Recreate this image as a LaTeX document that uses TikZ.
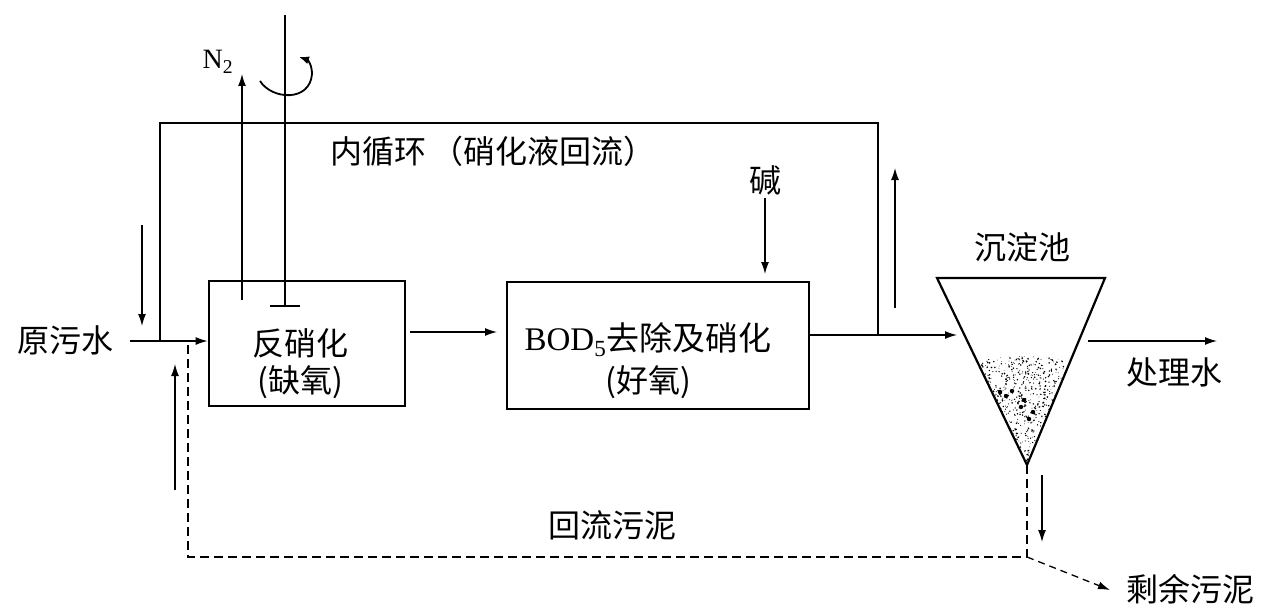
\documentclass[tikz,border=0pt]{standalone}
\usepackage{fontspec}
\setmainfont{Liberation Serif}
\newfontfamily\cjk{Noto Sans CJK SC}
\usetikzlibrary{arrows.meta}
\begin{document}
\begin{tikzpicture}[x=1pt,y=-1pt,line width=1.3pt,
  arr/.style={-{Latex[length=12pt,width=8pt]}},
  boxstyle/.style={draw,line width=2.8pt,inner sep=0pt},
  lbl/.style={font=\cjk\fontsize{32}{40}\selectfont,inner sep=0pt},
  latin/.style={font=\rmfamily\fontsize{33}{40}\selectfont,inner sep=0pt},
  sludge/.style={line width=2.6pt,dash pattern=on 9pt off 5pt},
  thindash/.style={line width=1.3pt,dash pattern=on 7pt off 5pt}]
\useasboundingbox (0,0) rectangle (1280,610);
\fill[white] (0,0) rectangle (1280,610);

% boxes
\node[boxstyle,minimum width=196pt,minimum height=125pt] (box1) at (307,343.5) {};
\node[boxstyle,minimum width=302pt,minimum height=127pt] (box2) at (658,345.5) {};
\node[lbl,align=center] (t1a) at (300,343) {反硝化};
\node[lbl,align=center] (t1b) at (300,382) {(缺氧)};
\node[latin,anchor=base west] (t2a) at (524,350) {BOD\textsubscript{5}{\cjk 去除及硝化}};
\node[lbl] (t2b) at (648,382) {(好氧)};

% labels
\node[lbl] (raw) at (65,340) {原污水};
\node[lbl] (loop) at (493,151) {内循环\hspace{5pt}（硝化液回流）};
\node[lbl] (alk) at (765,180) {碱};
\node[lbl] (settle) at (1022,247) {沉淀池};
\node[lbl] (treated) at (1174,372) {处理水};
\node[lbl] (ret) at (612,525) {回流污泥};
\node[lbl] (excess) at (1190,589) {剩余污泥};
\node[latin,font=\rmfamily\fontsize{28}{34}\selectfont] (n2) at (218,62) {N\textsubscript{2}};

% settling tank
\coordinate (cl) at (937,278);
\coordinate (cr) at (1105,278);
\coordinate (tip) at (1027,465);
\draw[line width=2.2pt,line join=miter] (cl) -- (cr) -- (tip) -- cycle;
\begin{scope}
  \clip (977,362) .. controls (1005,354) and (1045,354) .. (1070,362) -- (tip) -- cycle;
  \pgfmathsetseed{7}
  \foreach \i in {1,...,1000} {
    \pgfmathsetmacro\px{975+97*rnd}
    \pgfmathsetmacro\py{352+113*rnd}
    \pgfmathsetmacro\pr{0.35+0.6*rnd}
    \fill (\px,\py) circle (\pr);
  }
  \foreach \bx/\by in {1000/392,1006/396,1012/391,1024/400,1021/407,1033/412,1029/419} {
    \fill (\bx,\by) circle (2.2);
  }
\end{scope}

% main flow
\coordinate (inS) at (130,341);
\draw[arr] (inS) -- (inS -| box1.west);
\coordinate (b1o) at (410,332);
\coordinate (b2i) at (497,332);
\draw[arr] (b1o) -- (b2i);
\coordinate (j1) at (878,335);
\coordinate (cin) at (957,335);
\draw (j1 -| box2.east) -- (j1);
\draw[arr] (j1) -- (cin);
\coordinate (tout) at (1088,341);
\coordinate (tend) at (1217,341);
\draw[arr] (tout) -- (tend);

% internal recycle loop
\coordinate (lt1) at (878,123);
\coordinate (lt2) at (160,123);
\coordinate (lt3) at (160,341);
\draw (j1) -- (lt1) -- (lt2) -- (lt3);
\coordinate (da1) at (142,225);
\coordinate (da2) at (142,326);
\draw[arr] (da1) -- (da2);
\coordinate (ua1) at (895,308);
\coordinate (ua2) at (895,168);
\draw[arr] (ua1) -- (ua2);

% return sludge
\coordinate (rs1) at (188,345);
\coordinate (rs2) at (188,557);
\coordinate (rs3) at (1027,557);
\draw[sludge] (rs1) -- (rs2) -- (rs3) -- (tip);
\coordinate (ex) at (1110,590);
\draw[thindash,-{Latex[length=12pt,width=8pt]}] (rs3) -- (ex);
\coordinate (ra1) at (175,490);
\coordinate (ra2) at (175,364);
\draw[arr] (ra1) -- (ra2);
\coordinate (ea1) at (1042,475);
\coordinate (ea2) at (1042,542);
\draw[arr] (ea1) -- (ea2);

% N2 and stirrer
\coordinate (n2a) at (242,300);
\coordinate (n2b) at (242,74);
\draw[arr] (n2a) -- (n2b);
\coordinate (st1) at (285,15);
\coordinate (st2) at (285,306);
\draw (st1) -- (st2);
\draw[line width=2pt] (270,306) -- (300,306);
\coordinate (rot1) at (260,81);
\coordinate (rot2) at (299,57);
\draw[line width=1.8pt,-{Latex[length=10pt,width=8pt]}] (rot1) .. controls (272,100) and (310,102) .. (312,74) .. controls (312,65) and (308,60) .. (rot2);

% alkali
\coordinate (al1) at (765,198);
\coordinate (al2) at (765,274);
\draw[arr] (al1) -- (al2);
\end{tikzpicture}
\end{document}
